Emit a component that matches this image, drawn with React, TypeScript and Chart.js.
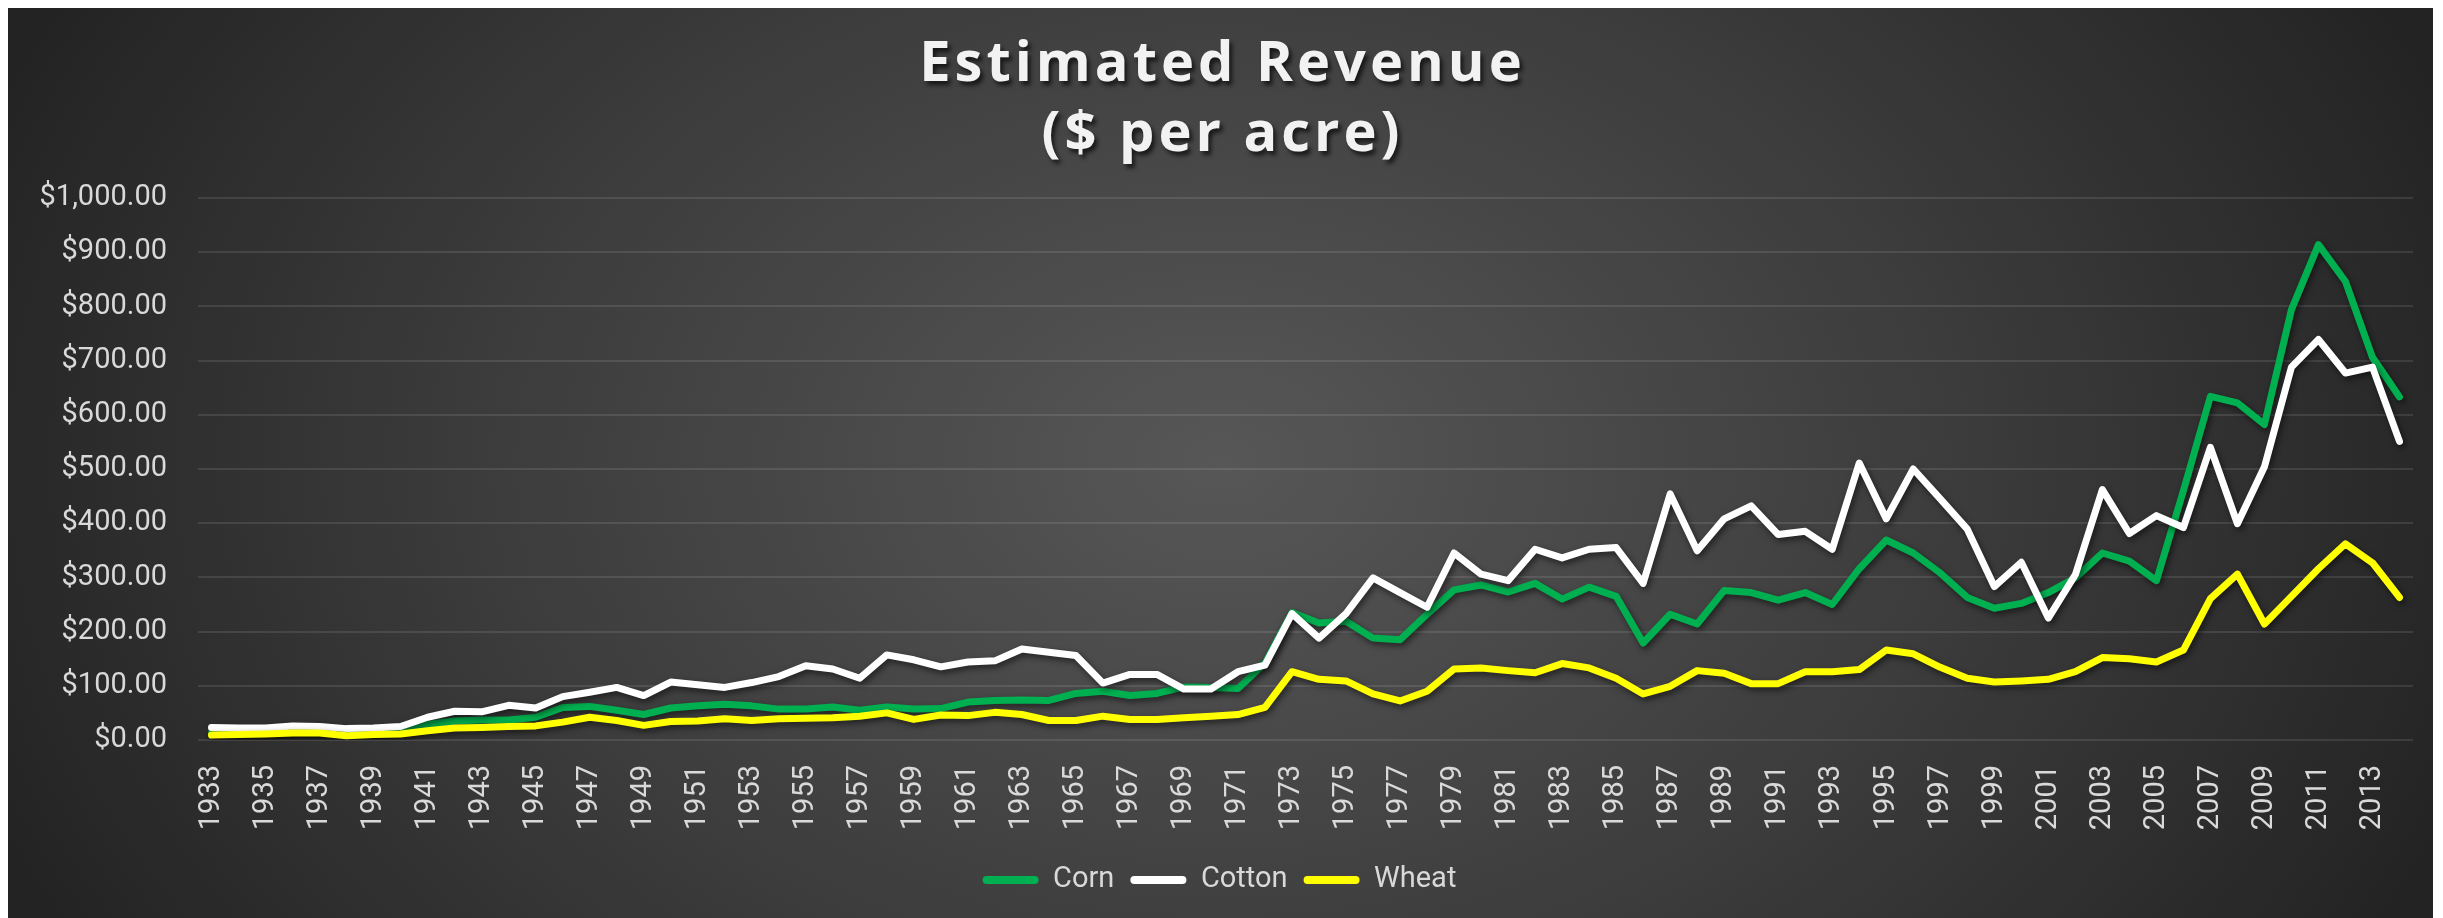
import React, { useEffect, useRef } from "react";
import { Chart, registerables } from "chart.js";

Chart.register(...registerables);

const years: string[] = [
  "1933","1934","1935","1936","1937","1938","1939","1940","1941","1942",
  "1943","1944","1945","1946","1947","1948","1949","1950","1951","1952",
  "1953","1954","1955","1956","1957","1958","1959","1960","1961","1962",
  "1963","1964","1965","1966","1967","1968","1969","1970","1971","1972",
  "1973","1974","1975","1976","1977","1978","1979","1980","1981","1982",
  "1983","1984","1985","1986","1987","1988","1989","1990","1991","1992",
  "1993","1994","1995","1996","1997","1998","1999","2000","2001","2002",
  "2003","2004","2005","2006","2007","2008","2009","2010","2011","2012",
  "2013","2014",
];

const corn: number[] = [
  13, 12, 13, 15, 15, 11, 13, 15, 29, 35,
  37, 37, 42, 60, 62, 55, 47, 59, 63, 66,
  63, 57, 57, 61, 55, 61, 57, 58, 70, 73,
  74, 73, 86, 90, 82, 86, 98, 97, 95, 142,
  235, 216, 219, 188, 185, 232, 277, 286, 273, 289,
  260, 282, 265, 179, 232, 214, 276, 272, 258, 272,
  250, 316, 369, 345, 308, 263, 243, 252, 272, 299,
  345, 330, 294, 460, 634, 622, 582, 794, 914, 846,
  706, 633,
];

const cotton: number[] = [
  23, 22, 22, 26, 25, 21, 22, 25, 42, 53,
  52, 64, 59, 80, 88, 97, 82, 107, 102, 97,
  106, 117, 137, 131, 114, 157, 148, 135, 144, 146,
  168, 162, 156, 105, 121, 121, 94, 94, 126, 138,
  233, 188, 233, 299, 272, 245, 345, 306, 294, 352,
  336, 352, 355, 289, 454, 349, 408, 432, 379, 385,
  352, 511, 408, 500, 445, 389, 283, 328, 225, 305,
  462, 381, 414, 392, 540, 399, 504, 688, 739, 677,
  688, 551,
];

const wheat: number[] = [
  9, 10, 11, 13, 13, 8, 10, 11, 17, 22,
  23, 25, 26, 33, 42, 36, 27, 34, 35, 39,
  36, 39, 40, 41, 44, 50, 38, 46, 45, 51,
  47, 36, 36, 44, 38, 38, 41, 44, 47, 60,
  126, 112, 109, 85, 72, 90, 131, 133, 128, 124,
  141, 133, 114, 85, 99, 128, 123, 104, 104, 126,
  126, 130, 166, 159, 134, 114, 107, 109, 112, 126,
  152, 150, 144, 166, 261, 306, 214, 265, 316, 362,
  327, 263,
];

const seriesNames: string[] = ["Corn", "Cotton", "Wheat"];
const seriesColors: string[] = ["#00b050", "#ffffff", "#ffff00"];
const titleLines: string[] = ["Estimated Revenue", "($ per acre)"];

const shadowPlugin = {
  id: "lineShadow",
  beforeDatasetDraw(chart: any) {
    const ctx = chart.ctx;
    ctx.save();
    ctx.shadowColor = "rgba(0,0,0,0.55)";
    ctx.shadowBlur = 6;
    ctx.shadowOffsetX = 2;
    ctx.shadowOffsetY = 3;
  },
  afterDatasetDraw(chart: any) {
    chart.ctx.restore();
  },
};

// Chart title drawn as canvas text with spacing and a soft shadow
const titlePlugin = {
  id: "shadowTitle",
  afterDraw(chart: any) {
    const ctx = chart.ctx;
    ctx.save();
    ctx.font = "bold 56px 'Open Sans', sans-serif";
    ctx.fillStyle = "#f2f2f2";
    ctx.textAlign = "center";
    ctx.textBaseline = "middle";
    const spacing = 4;
    (ctx as any).letterSpacing = spacing + "px";
    ctx.shadowColor = "rgba(0,0,0,0.65)";
    ctx.shadowBlur = 4;
    ctx.shadowOffsetX = 3;
    ctx.shadowOffsetY = 4;
    const cx = chart.width / 2 + spacing / 2;
    titleLines.forEach((t, i) => ctx.fillText(t, cx, 57 + i * 70));
    ctx.restore();
  },
};

export default function App() {
  const ref = useRef<HTMLCanvasElement | null>(null);

  useEffect(() => {
    if (!ref.current) return;
    const values = [corn, cotton, wheat];
    const tickFont = { family: "Roboto, sans-serif", size: 29 };
    const chart = new Chart(ref.current, {
      type: "line",
      data: {
        labels: years,
        datasets: seriesNames.map((name, i) => ({
          label: name,
          data: values[i],
          borderColor: seriesColors[i],
          backgroundColor: seriesColors[i],
          borderWidth: 7,
          pointRadius: 0,
          tension: 0,
          borderJoinStyle: "round" as const,
          borderCapStyle: "round" as const,
          order: 3 - i,
        })),
      },
      options: {
        responsive: false,
        animation: false,
        layout: { padding: { left: 18, right: 20, top: 190, bottom: 13.5 } },
        plugins: {
          tooltip: { enabled: false },
          title: { display: false },
          legend: {
            position: "bottom",
            labels: {
              color: "#d9d9d9",
              font: { family: "Roboto, sans-serif", size: 29 },
              boxWidth: 56,
              boxHeight: 8,
              useBorderRadius: true,
              borderRadius: 4,
              padding: 16,
              generateLabels: (c: any) =>
                c.data.datasets.map((ds: any, i: number) => ({
                  text: ds.label,
                  fillStyle: ds.borderColor,
                  strokeStyle: ds.borderColor,
                  lineWidth: 0,
                  fontColor: "#d9d9d9",
                  datasetIndex: i,
                  hidden: false,
                  borderRadius: 4,
                })),
            },
          },
        },
        scales: {
          x: {
            offset: true,
            grid: { display: false, drawTicks: false, tickLength: 0, offset: true },
            border: { display: false },
            afterFit: (s: any) => {
              s.height = 109.5;
              s.paddingRight = 0;
              s.paddingLeft = 0;
            },
            ticks: {
              autoSkip: false,
              maxRotation: 90,
              minRotation: 90,
              padding: 25,
              color: "#d9d9d9",
              font: tickFont,
              callback: (_v: any, i: number) => (i % 2 === 0 ? years[i] : ""),
            },
          },
          y: {
            min: 0,
            max: 1000,
            grid: { color: "rgba(255,255,255,0.1)", lineWidth: 2, drawTicks: false },
            border: { display: false },
            afterFit: (s: any) => {
              s.width = 172;
            },
            ticks: {
              stepSize: 100,
              padding: 31,
              color: "#d9d9d9",
              font: tickFont,
              callback: (v: any) =>
                "$" + Number(v).toLocaleString("en-US", { minimumFractionDigits: 2, maximumFractionDigits: 2 }),
            },
          },
        },
      },
      plugins: [shadowPlugin, titlePlugin],
    });
    return () => chart.destroy();
  }, []);

  return (
    <div
      style={{
        width: 2425,
        height: 910,
        background:
          "radial-gradient(ellipse 55% 105% at 50% 50%, #575757 0%, #3c3c3c 55%, #232323 100%)",
      }}
    >
      <canvas ref={ref} width={2425} height={910} />
    </div>
  );
}
